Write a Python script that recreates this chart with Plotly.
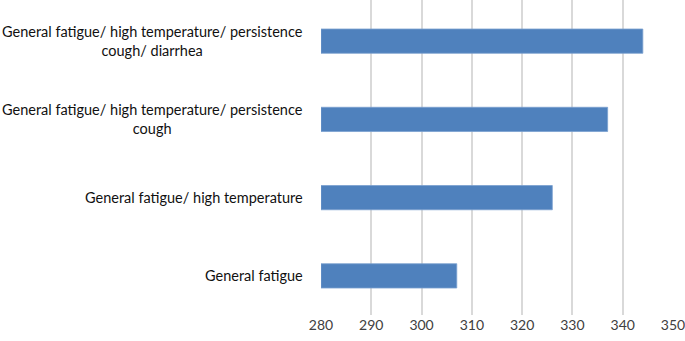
import plotly.graph_objects as go

categories = [
    "General fatigue",
    "General fatigue/ high temperature",
    "General fatigue/ high temperature/ persistence<br>cough",
    "General fatigue/ high temperature/ persistence<br>cough/ diarrhea",
]
values = [307, 326, 337, 344]
tick_vals = [280, 290, 300, 310, 320, 330, 340, 350]
axis_min = 280

FONT = "Lato, Open Sans, Liberation Sans, sans-serif"

fig = go.Figure()
fig.add_trace(go.Bar(
    x=[v - axis_min for v in values], y=categories, orientation="h",
    base=axis_min,
    marker=dict(color="#4F81BD", line=dict(color="#7aa0cf", width=0.8)),
    width=0.31,
))

for c in categories:
    fig.add_annotation(
        x=-0.0455, xref="paper", y=c, yref="y",
        text=c, showarrow=False, xanchor="right", align="center",
        font=dict(family=FONT, size=14.5, color="#111111"),
    )

fig.update_layout(
    width=685, height=341,
    margin=dict(l=321, r=12, t=0, b=26),
    paper_bgcolor="white", plot_bgcolor="white",
    showlegend=False,
    xaxis=dict(range=[280, 350], tickvals=tick_vals, showgrid=True,
               gridcolor="#d9d9d9", gridwidth=1.5, zeroline=False,
               showline=False, ticks="", ticklabeloverflow="allow",
               tickfont=dict(family=FONT, size=14, color="#404040")),
    yaxis=dict(categoryorder="array", categoryarray=categories,
               showticklabels=False, showgrid=False, zeroline=False,
               range=[-0.5, 3.526]),
)
fig.write_html("out.html", config={"displayModeBar": False},
               post_script="document.body.style.margin='0';document.body.style.padding='0';")
